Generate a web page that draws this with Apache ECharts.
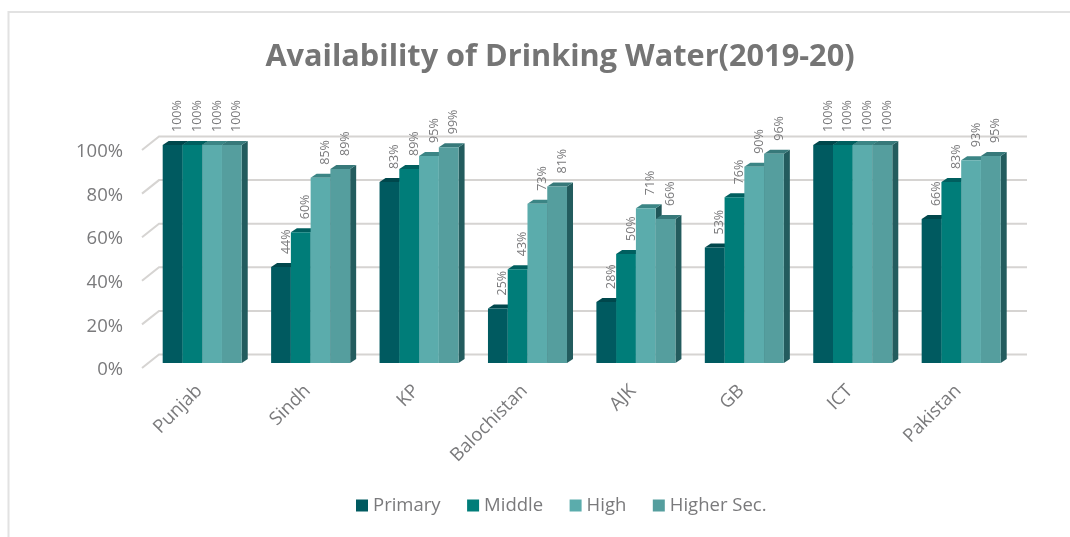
<!DOCTYPE html>
<html><head><meta charset="utf-8">
<style>html,body{margin:0;padding:0;background:#fff}#c{width:1070px;height:537px}</style>
<script src="https://cdn.jsdelivr.net/npm/echarts@6/dist/echarts.min.js"></script>
</head><body><div id="c"></div>
<script>
const categories = ['Punjab','Sindh','KP','Balochistan','AJK','GB','ICT','Pakistan'];
const primary = [100,44,83,25,28,53,100,66];
const middle  = [100,60,89,43,50,76,100,83];
const high    = [100,85,95,73,71,90,100,93];
const higher  = [100,89,99,81,66,96,100,95];
const yTicks  = [0,20,40,60,80,100];

const font = '"Open Sans", sans-serif';
const textGrey = '#7a7a7c';
const depthX = 6, depthY = 4;
const palette = [
  {name:'Primary',     data:primary, front:'#005A60', top:'#00474C', side:'#1F5658'},
  {name:'Middle',      data:middle,  front:'#007D79', top:'#005F5F', side:'#1F5658'},
  {name:'High',        data:high,    front:'#5BACAC', top:'#3B8585', side:'#1F5658'},
  {name:'Higher Sec.', data:higher,  front:'#559E9E', top:'#37797A', side:'#235C5E'}
];
const groupFrac = 0.729;

function barSeries(p, idx) {
  return {
    name: p.name, type:'custom', z: 10 + idx,
    itemStyle:{color:p.front},
    encode:{x:0,y:1},
    data: p.data.map((v,i)=>[i,v]),
    clip:false,
    renderItem(params, api) {
      const cat = api.value(0), v = api.value(1);
      const base = api.coord([cat,0]), topPt = api.coord([cat,v]);
      const band = api.size([1,0])[0];
      const w = band*groupFrac/4;
      const x0 = base[0] - 2*w + idx*w, x1 = x0 + w, y0 = base[1], y1 = topPt[1];
      return {type:'group', children:[
        {type:'polygon', shape:{points:[[x1,y0],[x1+depthX,y0-depthY],[x1+depthX,y1-depthY],[x1,y1]]}, style:{fill:p.side}},
        {type:'polygon', shape:{points:[[x0,y1],[x0+depthX,y1-depthY],[x1+depthX,y1-depthY],[x1,y1]]}, style:{fill:p.top}},
        {type:'rect', shape:{x:x0,y:y1,width:w,height:y0-y1}, style:{fill:p.front}},
        {type:'text', x:x0+w/2+5, y:y1-13, rotation:Math.PI/2, z2:50,
          style:{text:v+'%', fill:textGrey, font:'12.5px '+font, align:'left', verticalAlign:'middle'}}
      ]};
    }
  };
}

const wall = {
  type:'custom', silent:true, z:1, clip:false, legendHoverLink:false,
  data: yTicks.map(t=>[0,t]), encode:{y:1},
  renderItem(params, api) {
    const p = api.coord([0,api.value(1)]);
    const yBack = p[1]-8.5, yFront = p[1]+5;
    const xFront = 142, xBack = 159, xEnd = 1027;
    return {type:'group', children:[
      {type:'polyline', shape:{points:[[xFront,yFront],[xBack,yBack],[xEnd,yBack]]},
       style:{fill:null, stroke:'#d6d4d2', lineWidth:2}}
    ]};
  }
};

const chart = echarts.init(document.getElementById('c'), null, {renderer:'canvas'});
chart.setOption({
  animation:false,
  backgroundColor:'#fff',
  graphic:[
    {type:'polyline', silent:true, z:0, shape:{points:[[8.5,537],[8.5,12],[1070,12]]}, style:{fill:null, stroke:'#e2e2e2', lineWidth:2}}
  ],
  title:{text:'Availability of Drinking Water(2019-20)', left:555, textAlign:'center', top:37,
    textStyle:{fontFamily:font, fontWeight:'bold', fontSize:30.7, color:'#757575'}},
  legend:{
    data:palette.map((p,i)=>({name:p.name, itemStyle:{color:p.front}})),
    top:491, left:351, icon:'rect', itemWidth:12, itemHeight:12, itemGap:26.5,
    textStyle:{fontFamily:font, fontSize:18.5, color:textGrey},
    selectedMode:false
  },
  grid:[
    {left:148, width:867.4, top:145, height:218},
    {left:145, width:867.4, top:152, height:218}
  ],
  xAxis:[
    {type:'category', gridIndex:0, data:categories, show:false},
    {type:'category', gridIndex:1, data:categories, axisLine:{show:false}, axisTick:{show:false}, splitLine:{show:false},
     axisLabel:{rotate:45, fontFamily:font, fontSize:18.5, color:textGrey, margin:18, interval:0}}
  ],
  yAxis:[
    {type:'value', gridIndex:0, min:0, max:100, interval:20, show:false, splitLine:{show:false}},
    {type:'value', gridIndex:1, min:0, max:100, interval:20, axisLine:{show:false}, axisTick:{show:false}, splitLine:{show:false},
     axisLabel:{formatter:'{value}%', fontFamily:font, fontSize:18.5, color:textGrey, margin:22}}
  ],
  series:[wall, ...palette.map(barSeries)]
});
</script></body></html>
